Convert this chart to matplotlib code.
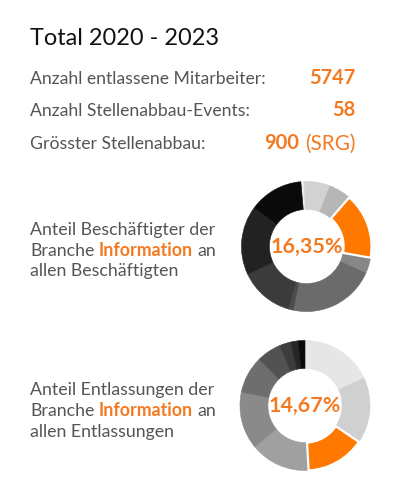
import matplotlib
matplotlib.use("Agg")
import matplotlib.pyplot as plt

# ---------------- data ----------------
title = "Total 2020 - 2023"
stat_labels = ["Anzahl entlassene Mitarbeiter:", "Anzahl Stellenabbau-Events:", "Grösster Stellenabbau:"]
stat_values = ["5747", "58", "900"]
stat_suffix = ["", "", "(SRG)"]

donut1_label = [["Anteil Beschäftigter der"], ["Branche ", "Information", " an"], ["allen Beschäftigten"]]
donut1_values = [0.85, 6.4, 5.55, 16.35, 3.9, 21.6, 1.25, 13.45, 17.2, 13.45]
donut1_highlight = 3
donut1_center = "16,35%"

donut2_label = [["Anteil Entlassungen der"], ["Branche ", "Information", " an"], ["allen Entlassungen"]]
donut2_values = [18.05, 16.4, 14.67, 14.9, 14.3, 9.2, 6.1, 2.8, 1.9, 1.68]
donut2_highlight = 2
donut2_center = "14,67%"

ORANGE_RING = "#ff7800"
ORANGE_TXT = "#f47a22"
GRAY_TXT = "#555555"
greys1 = ['#ececec', '#d2d2d2', '#b6b6b6', None, '#878787', '#6b6b6b', '#4d4d4d', '#3b3b3b', '#222222', '#0a0a0a']
greys2 = ['#e6e6e6', '#d0d0d0', None, '#a0a0a0', '#8a8a8a', '#6e6e6e', '#525252', '#3c3c3c', '#262626', '#0a0a0a']

W, H = 400, 500
fig = plt.figure(figsize=(W / 100, H / 100), dpi=100)
fig.patch.set_facecolor("white")
renderer = fig.canvas.get_renderer()
FONT = "Lato"


def px(v):
    return v * 0.72


def put(x, y, s, size, color, weight="normal", ha="left"):
    t = fig.text(x / W, 1 - y / H, s, fontsize=px(size), color=color, fontweight=weight,
                 family=FONT, ha=ha, va="baseline")
    return t.get_window_extent(renderer)


# title
put(30, 45, title, 23.5, "#111111")

# stats rows
row_y = [83.5, 115.5, 149.5]
for lab, val, suf, y in zip(stat_labels, stat_values, stat_suffix, row_y):
    put(30, y, lab, 17.6, GRAY_TXT)
    right = 355
    if suf:
        bb = put(right, y, suf, 20.8, ORANGE_TXT, "normal", ha="right")
        right = bb.x0 - 6
    put(right, y, val, 20.2, ORANGE_TXT, "bold", ha="right")


def label_block(lines, y0, size=17.8):
    for i, parts in enumerate(lines):
        y = y0 + i * 20.7
        cur = 30
        for p in parts:
            bold = (p == "Information")
            col = ORANGE_TXT if bold else GRAY_TXT
            stripped = p.strip()
            if p.startswith(" "):
                cur += 4.6
            bb = put(cur, y, stripped, size, col, "bold" if bold else "normal")
            cur = bb.x1
            if p.endswith(" "):
                cur += 4.6


label_block(donut1_label, 235)
label_block(donut2_label, 395.5)


def donut(cx, cy, R, values, greys, hi, center_text, start):
    ax = fig.add_axes([(cx - R) / W, 1 - (cy + R) / H, 2 * R / W, 2 * R / H])
    cols = [ORANGE_RING if i == hi else g for i, g in enumerate(greys)]
    wedges, _ = ax.pie(values, colors=cols, startangle=start,
                       counterclock=False, radius=1.0,
                       wedgeprops=dict(width=0.43, linewidth=0.4))
    for i, w in enumerate(wedges):
        if i == hi:
            w.set_edgecolor("white")
            w.set_linewidth(1.6)
            w.set_zorder(5)
        else:
            w.set_edgecolor(cols[i])
    ax.set_xlim(-1.03, 1.03)
    ax.set_ylim(-1.03, 1.03)
    ax.set_aspect("equal")
    ax.axis("off")
    ax.text(0, 0, center_text, ha="center", va="center", fontsize=px(21.5),
            color=ORANGE_TXT, fontweight="bold", family=FONT, zorder=10)


donut(306.5, 246.5, 67, donut1_values, greys1, donut1_highlight, donut1_center, 95)
donut(305, 405.5, 67, donut2_values, greys2, donut2_highlight, donut2_center, 90)

fig.savefig("out.png", dpi=100, facecolor="white")
